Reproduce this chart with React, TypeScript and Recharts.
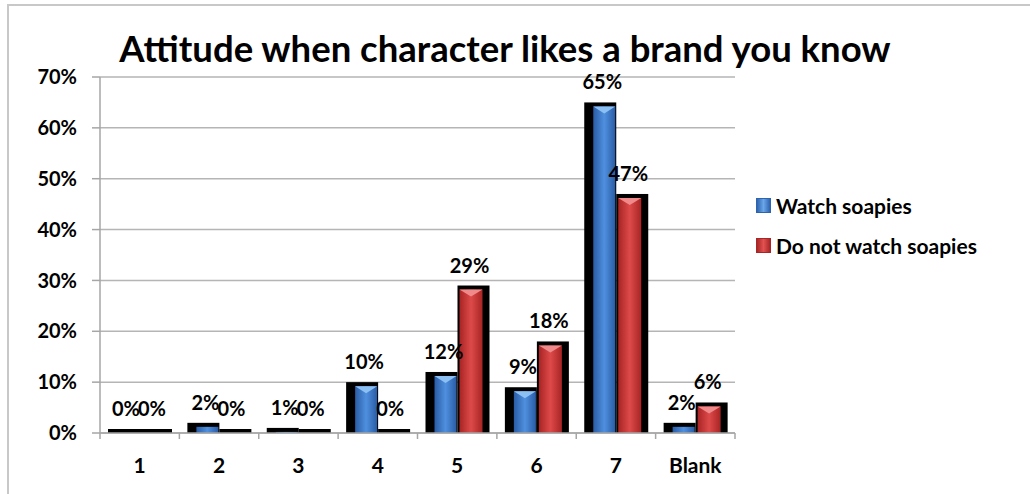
import React from "react";
import { BarChart, Bar, XAxis, YAxis, CartesianGrid, LabelList } from "recharts";

const categories = ["1", "2", "3", "4", "5", "6", "7", "Blank"];
const watchSoapies = [0, 2, 1, 10, 12, 9, 65, 2];
const notWatchSoapies = [0, 0, 0, 0, 29, 18, 47, 6];
const yTicks = [0, 10, 20, 30, 40, 50, 60, 70];
const seriesNames = ["Watch soapies", "Do not watch soapies"];

const FONT = "Lato, 'Open Sans', sans-serif";

const data = categories.map((c, i) => ({
  name: c,
  watch: watchSoapies[i],
  notWatch: notWatchSoapies[i],
}));

// black "shadow" block behind each bar, with the coloured bar inset in it
function ShadowBar(props: any) {
  const { x, y, width, height, side, gradId, tip } = props;
  const base = y + height;
  const top = Math.min(y, base - 4);
  const left = side === "left" ? x + 9 : x + 2;
  const right = side === "left" ? x + width - 1 : x + width - 7;
  const innerTop = top + 4;
  return (
    <g>
      <rect x={x} y={top} width={width} height={base - top} fill="#000" />
      {base - innerTop > 0 && (
        <>
          <rect x={left} y={innerTop} width={right - left} height={base - innerTop} fill={`url(#${gradId})`} />
          {base - innerTop > 8 && (
            <polygon
              points={`${left},${innerTop} ${right},${innerTop} ${(left + right) / 2},${innerTop + 7}`}
              fill={tip}
            />
          )}
        </>
      )}
    </g>
  );
}

function makeLabel(shift: number) {
  return (props: any) => {
    const { x, y, width, height, value } = props;
    const base = y + height;
    const top = Math.min(y, base - 4);
    return (
      <text
        x={x + width / 2 + shift}
        y={top - 21}
        textAnchor="middle"
        dominantBaseline="central"
        fontFamily={FONT}
        fontWeight={700}
        fontSize={20}
        fill="#000"
      >
        {value}%
      </text>
    );
  };
}

function CategoryTick(props: any) {
  const { x, y, payload, index } = props;
  const band = 635 / categories.length;
  return (
    <g>
      <line x1={x - band / 2} y1={y - 8} x2={x - band / 2} y2={y - 2} stroke="#a6a6a6" strokeWidth={1.5} />
      {index === categories.length - 1 && (
        <line x1={x + band / 2} y1={y - 8} x2={x + band / 2} y2={y - 2} stroke="#a6a6a6" strokeWidth={1.5} />
      )}
      <text x={x} y={y + 23} textAnchor="middle" dominantBaseline="central" fontFamily={FONT} fontWeight={700} fontSize={21} fill="#000">
        {payload.value}
      </text>
    </g>
  );
}

function LegendBox() {
  const colors = [
    { c1: "#2e64ae", c2: "#6aa6e8" },
    { c1: "#a82626", c2: "#e25252" },
  ];
  return (
    <div
      style={{
        position: "absolute",
        left: 756,
        top: 185,
        fontFamily: FONT,
        fontWeight: 700,
        fontSize: 21,
        color: "#000",
      }}
    >
      {seriesNames.map((label, i) => (
        <div key={label} style={{ display: "flex", alignItems: "center", height: 40, whiteSpace: "nowrap" }}>
          <span
            style={{
              display: "inline-block",
              width: 13,
              height: 13,
              marginRight: 5,
              background: `linear-gradient(90deg, ${colors[i].c1}, ${colors[i].c2}, ${colors[i].c1})`,
              border: `1px solid ${colors[i].c1}`,
            }}
          />
          {label}
        </div>
      ))}
    </div>
  );
}

export default function App() {
  return (
    <div style={{ position: "absolute", left: 0, top: 0, width: 1030, height: 494, overflow: "hidden", background: "#fff" }}>
      <div
        style={{
          position: "absolute",
          left: 7,
          top: 4,
          width: 1040,
          height: 500,
          border: "2px solid #c8c8c8",
        }}
      />
      <div
        style={{
          position: "absolute",
          left: 0,
          top: 26,
          width: 1010,
          textAlign: "center",
          fontFamily: FONT,
          fontWeight: 700,
          fontSize: 36.5,
          lineHeight: "44px",
          color: "#000",
        }}
      >
        Attitude when character likes a brand you know
      </div>
      <div style={{ position: "absolute", left: 0, top: 0 }}>
        <BarChart
          width={1030}
          height={494}
          data={data}
          margin={{ top: 77, right: 295, bottom: 31, left: 0 }}
          barCategoryGap={8}
          barGap={0}
        >
          <defs>
            <linearGradient id="gBlue" x1="0" y1="0" x2="1" y2="0">
              <stop offset="0%" stopColor="#2a5ca6" />
              <stop offset="50%" stopColor="#4f90de" />
              <stop offset="100%" stopColor="#2a5ca6" />
            </linearGradient>
            <linearGradient id="gRed" x1="0" y1="0" x2="1" y2="0">
              <stop offset="0%" stopColor="#a82424" />
              <stop offset="50%" stopColor="#de4a4a" />
              <stop offset="100%" stopColor="#a82424" />
            </linearGradient>
          </defs>
          <CartesianGrid vertical={false} stroke="#b5b5b5" strokeWidth={1.5} />
          <XAxis
            dataKey="name"
            height={30}
            axisLine={{ stroke: "#a6a6a6", strokeWidth: 1.5 }}
            tickLine={false}
            tick={<CategoryTick />}
            interval={0}
          />
          <YAxis
            width={100}
            domain={[0, 70]}
            ticks={yTicks}
            interval={0}
            tickFormatter={(v: number) => `${v}%`}
            axisLine={{ stroke: "#a6a6a6", strokeWidth: 1.5 }}
            tickLine={{ stroke: "#a6a6a6", strokeWidth: 1.5 }}
            tickSize={8}
            tickMargin={15}
            tick={{ fontFamily: FONT, fontWeight: 700, fontSize: 20, fill: "#000" }}
          />
          <Bar
            dataKey="watch"
            name={seriesNames[0]}
            isAnimationActive={false}
            shape={(p: any) => <ShadowBar {...p} side="left" gradId="gBlue" tip="#8cc0f2" />}
          >
            <LabelList dataKey="watch" content={makeLabel(2)} />
          </Bar>
          <Bar
            dataKey="notWatch"
            name={seriesNames[1]}
            isAnimationActive={false}
            shape={(p: any) => <ShadowBar {...p} side="right" gradId="gRed" tip="#f08a8a" />}
          >
            <LabelList dataKey="notWatch" content={makeLabel(-4)} />
          </Bar>
        </BarChart>
      </div>
      <LegendBox />
    </div>
  );
}
